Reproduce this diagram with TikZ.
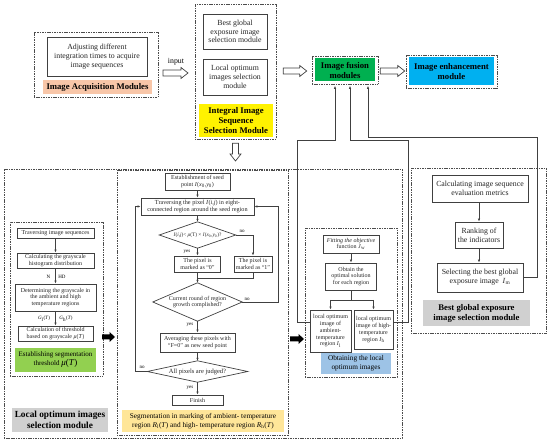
\documentclass[tikz,border=0pt]{standalone}
\usepackage{fontspec}
\setmainfont{Liberation Serif}
\usetikzlibrary{calc,arrows.meta}
\definecolor{acqorange}{HTML}{F8C6A8}
\definecolor{fusgreen}{HTML}{00B050}
\definecolor{enhblue}{HTML}{00B0F0}
\definecolor{leftgreen}{HTML}{92D050}
\definecolor{labgray}{HTML}{D0D0D0}
\definecolor{midyellow}{HTML}{FFE699}
\definecolor{obtblue}{HTML}{9DC3E6}
\definecolor{linegray}{HTML}{404040}
\newcommand{\myHollowR}[2]{\draw[hollow] ($(#1)+(0,-3)$) -- ($(#2)+(-7,-3)$) -- ($(#2)+(-7,-5.5)$) -- (#2) -- ($(#2)+(-7,5.5)$) -- ($(#2)+(-7,3)$) -- ($(#1)+(0,3)$) -- cycle;}
\newcommand{\myHollowD}[2]{\draw[hollow] ($(#1)+(-3,0)$) -- ($(#2)+(-3,-7)$) -- ($(#2)+(-5.5,-7)$) -- (#2) -- ($(#2)+(5.5,-7)$) -- ($(#2)+(3,-7)$) -- ($(#1)+(3,0)$) -- cycle;}
\newcommand{\myBlackR}[2]{\fill[black] ($(#1)+(0,-2.5)$) -- ($(#2)+(-5.5,-2.5)$) -- ($(#2)+(-5.5,-5)$) -- (#2) -- ($(#2)+(-5.5,5)$) -- ($(#2)+(-5.5,2.5)$) -- ($(#1)+(0,2.5)$) -- cycle;}
\newcommand{\myDiamond}[1]{\draw[diaL] (#1.north) -- (#1.east) -- (#1.south) -- (#1.west) -- cycle;}
\begin{document}
\begin{tikzpicture}[x=1pt,y=-1pt,
  wh/.style 2 args={minimum width=#1pt, minimum height=#2pt},
  dbox/.style={draw=black!70, dash pattern=on 1.1pt off 0.6pt, line width=0.6pt, inner sep=0pt},
  sbox/.style={draw=linegray, line width=0.7pt, fill=white, align=center, inner sep=0.5pt, text=black!85},
  lab/.style={align=center, inner sep=0.5pt},
  dia/.style={align=center, inner sep=0pt, text=black!85},
  diaL/.style={draw=linegray, line width=0.7pt},
  hollow/.style={draw=linegray, line width=0.7pt, fill=white, line join=miter},
  ln/.style={draw=linegray, line width=0.6pt},
  conn/.style={draw=linegray, line width=0.6pt, -{Latex[length=3pt,width=2.4pt]}},
  fa/.style={font=\fontsize{7.8}{8.8}\selectfont},
  fm/.style={font=\fontsize{6.2}{7}\selectfont},
  fs/.style={font=\fontsize{6}{6.8}\selectfont},
  ft/.style={font=\fontsize{5}{6}\selectfont},
  fb/.style={font=\fontsize{8.7}{10}\selectfont\bfseries},
  fbb/.style={font=\fontsize{9.3}{10.5}\selectfont\bfseries},
  fl/.style={font=\fontsize{7.3}{8.6}\selectfont}
]
\useasboundingbox (0,0) rectangle (550,443);

% ---------- top row ----------
\node[dbox, wh={124}{65}] (acqO) at (96,64.5) {};
\node[sbox, wh={100}{39}, fa] (acqB) at (97,56.5) {Adjusting different\\integration times to acquire\\image sequences};
\node[lab, fill=acqorange, wh={109}{14}, fb] (acqL) at (97.5,87) {Image Acquisition Modules};

\node[fa, inner sep=0pt] (inp) at (176,62) {input};
\coordinate (h1s) at (163,73);
\coordinate (h1e) at (188,73);
\myHollowR{h1s}{h1e}

\node[dbox, wh={81}{135}] (intO) at (235.5,71.5) {};
\node[sbox, wh={64}{35}, fa] (intB) at (235,31.5) {Best global\\exposure image\\selection module};
\node[sbox, wh={64}{36}, fa] (intL) at (235,77) {Local optimum\\images selection\\module};
\node[lab, fill=yellow, wh={74}{33}, fb] (intY) at (236,120.5) {Integral Image\\Sequence\\Selection Module};

\node[dbox, wh={66}{28}] (fusO) at (345,70) {};
\node[lab, fill=fusgreen, wh={60}{23}, fb] (fus) at (345,70) {Image fusion\\modules};
\node[dbox, wh={91}{33}] (enhO) at (451.5,71.5) {};
\node[lab, fill=enhblue, wh={85}{28}, fb] (enh) at (451.5,71.5) {Image enhancement\\module};

\coordinate (h2s) at ($(intO.east)+(7,0)$);
\coordinate (h2e) at ($(fusO.west)+(-5,1)$);
\coordinate (h2s') at (h2s |- h2e);
\myHollowR{h2s'}{h2e}
\coordinate (h3s) at ($(fusO.east)+(2,1)$);
\coordinate (h3e) at ($(enhO.west)+(-1,-0.5)$);
\coordinate (h3e') at (h3e |- h3s);
\myHollowR{h3s}{h3e'}
\coordinate (h4s) at ($(intO.south)+(0,4)$);
\coordinate (h4e) at (235.5,161);
\myHollowD{h4s}{h4e}

% ---------- big lower box ----------
\node[dbox, wh={398}{269}] (bigO) at (203,303.5) {};

% left flowchart
\node[dbox, wh={93}{154}] (leftO) at (56.5,299) {};
\node[sbox, wh={77}{10}, fs] (L1) at (55.5,233) {Traversing image sequences};
\node[sbox, wh={77}{15}, fs] (L2) at (55.5,260.5) {Calculating the grayscale\\histogram distribution};
\node[sbox, wh={81}{27}, fs] (L3) at (55.5,297.5) {Determining the grayscale in\\the ambient and high\\temperature regions};
\node[sbox, wh={75}{15}, fs] (L4) at (55.5,333.5) {Calculation of threshold\\based on grayscale \textit{μ}(\textit{T})};
\node[lab, fill=leftgreen, wh={81}{24}, font=\fontsize{7}{9}\selectfont] (LG) at (55.5,360) {Establishing segmentation\\threshold {\fontsize{9}{9}\selectfont\textit{μ}(\textit{T})}};
\node[lab, fill=labgray, wh={96}{24}, fbb] (LL) at (60,420) {Local optimum images\\selection module};
\draw[conn] (L1) -- (L2);
\draw[conn] (L2) -- (L3);
\draw[conn] (L3) -- (L4);
\node[ft] (lN) at (48.5,277) {N};
\node[ft] (lHD) at (62,277) {HD};
\node[ft] (lGl) at (44,319) {\textit{G}\textsubscript{l}(\textit{T})};
\node[ft] (lGh) at (66,319) {\textit{G}\textsubscript{h}(\textit{T})};

\coordinate (b1s) at (102,337);
\coordinate (b1e) at (115,337);
\myBlackR{b1s}{b1e}

% middle flowchart
\node[dbox, wh={171}{265}] (midO) at (202.5,302.5) {};
\node[sbox, wh={65}{17}, fs] (M1) at (197.5,181.5) {Establishment of seed\\point \textit{I}(\textit{x}\textsubscript{0},\textit{y}\textsubscript{0})};
\node[sbox, wh={113}{17}, fm] (M2) at (197.5,206.5) {Traversing the pixel \textit{I}(\textit{i},\textit{j}) in eight-\\connected region around the seed region};
\node[dia, wh={76}{26}, font=\fontsize{5.3}{6}\selectfont] (D1) at (197.5,235) {\textit{I}(\textit{i},\textit{j})< \textit{μ}(T) × \textit{I}(\textit{x}\textsubscript{0},\textit{y}\textsubscript{0})?};
\myDiamond{D1}
\node[sbox, wh={46}{16}, fs] (M3) at (197.5,264) {The pixel is\\marked as “0”};
\node[sbox, wh={38}{16}, fs] (M4) at (253,264) {The pixel is\\marked as “1”};
\node[dia, wh={89}{38}, fs] (D2) at (197.5,302) {Current round of region\\growth complished?};
\myDiamond{D2}
\node[sbox, wh={75}{19}, fs] (M5) at (197.5,342.5) {Averaging these pixels with\\“F=0” as new seed point};
\node[dia, wh={100}{21}, font=\fontsize{6.5}{7}\selectfont] (D3) at (197.5,371.5) {All pixels are judged?};
\myDiamond{D3}
\node[sbox, wh={51}{10}, fs] (M6) at (197.5,400) {Finish};
\node[lab, fill=midyellow, wh={162}{22}, fl] (MY) at (203,421) {Segmentation in marking of ambient- temperature\\region \textit{R}\textsubscript{l}(\textit{T}) and high- temperature region \textit{R}\textsubscript{h}(\textit{T})};

\draw[conn] (M1) -- (M2);
\draw[conn] (M2) -- (D1);
\draw[conn] (D1) -- (M3);
\draw[conn] (D1.east) -| (M4.north);
\draw[conn] (M3) -- (D2);
\coordinate (mrg) at (197.5,278);
\draw[ln] (M4.south) |- (mrg);
\draw[conn] (D2) -- (M5);
\draw[conn] (M5) -- (D3);
\draw[conn] (D3) -- (M6);
\coordinate (lpL) at (135,0);
\coordinate (lpR) at (278,0);
\draw[conn] (D3.west) -- (D3.west -| lpL) -- (lpL |- M2.west) -- (M2.west);
\draw[conn] (D2.east) -- (D2.east -| lpR) -- (lpR |- M2.east) -- (M2.east);
\node[ft] (y1) at (187,252) {yes};
\node[ft] (n1) at (242,231) {no};
\node[ft] (y2) at (190,325) {yes};
\node[ft] (n2) at (247,299) {no};
\node[ft] (y3) at (190,388) {yes};
\node[ft] (n3) at (142,367) {no};

\coordinate (b2s) at (290,339);
\coordinate (b2e) at (304,339);
\myBlackR{b2s}{b2e}

% obtaining local optimum images
\node[dbox, wh={92}{149}] (obtO) at (351,302.5) {};
\node[sbox, wh={56}{18}, fs] (O1) at (351,244) {\textit{Fitting the objective}\\function \textit{J}\textsubscript{w}};
\node[sbox, wh={51}{27}, fs] (O2) at (351,276.5) {Obtain the\\optimal solution\\for each region};
\node[sbox, wh={41}{42}, fs] (O3) at (330.5,331) {local optimum\\image of\\ambient-\\temperature\\region \textit{I}\textsubscript{l}};
\node[sbox, wh={39}{39}, fs] (O4) at (373.5,329.5) {local optimum\\image of high-\\temperature\\region \textit{I}\textsubscript{h}};
\node[lab, fill=obtblue, wh={70}{21}, fl] (OB) at (356,363.5) {Obtaining the local\\optimum images};
\draw[conn] (O1) -- (O2);
\coordinate (brY) at (0,300);
\draw[ln] (O2.south) -- (O2.south |- brY);
\draw[ln] (O3.north |- brY) -- (O4.north |- brY);
\draw[conn] (O3.north |- brY) -- (O3.north);
\draw[conn] (O4.north |- brY) -- (O4.north);

% best global exposure image selection
\node[dbox, wh={135}{165}] (bestO) at (478.5,250.5) {};
\node[sbox, wh={96}{27}, fa] (R1) at (480,188.5) {Calculating image sequence\\evaluation metrics};
\node[sbox, wh={48}{26}, fa] (R2) at (479,235) {Ranking of\\the indicators};
\node[sbox, wh={86}{29}, fa] (R3) at (480,277.5) {Selecting the best global\\exposure image~ \textit{I}\textsubscript{m}};
\node[lab, fill=labgray, wh={107}{26}, fb] (RL) at (476.5,313) {Best global exposure\\image selection module};
\draw[conn] (R1.south -| R2.north) -- (R2);
\draw[conn] (R2) -- (R3.north -| R2.south);

% feedback lines into fusion module
\coordinate (o3p) at ($(O3.north west)!0.29!(O3.south west)$);
\coordinate (o4p) at ($(O4.north east)!0.31!(O4.south east)$);
\coordinate (xa) at (335,0);
\coordinate (xb) at (350,0);
\coordinate (xc) at (368,0);
\coordinate (fa1) at (fusO.south -| xa);
\coordinate (fb1) at (fusO.south -| xb);
\coordinate (fc1) at (fusO.south -| xc);
\coordinate (k1) at (297,140);
\coordinate (k2) at (408,140);
\coordinate (k3) at (537,137);
\draw[conn] (o3p) -| (k1) -| ($(fa1)+(0,1.5)$);
\draw[conn] (o4p) -| (k2) -| ($(fb1)+(0,1.5)$);
\draw[conn] (R3.east) -| (k3) -| ($(fc1)+(0,1.5)$);
\end{tikzpicture}
\end{document}
